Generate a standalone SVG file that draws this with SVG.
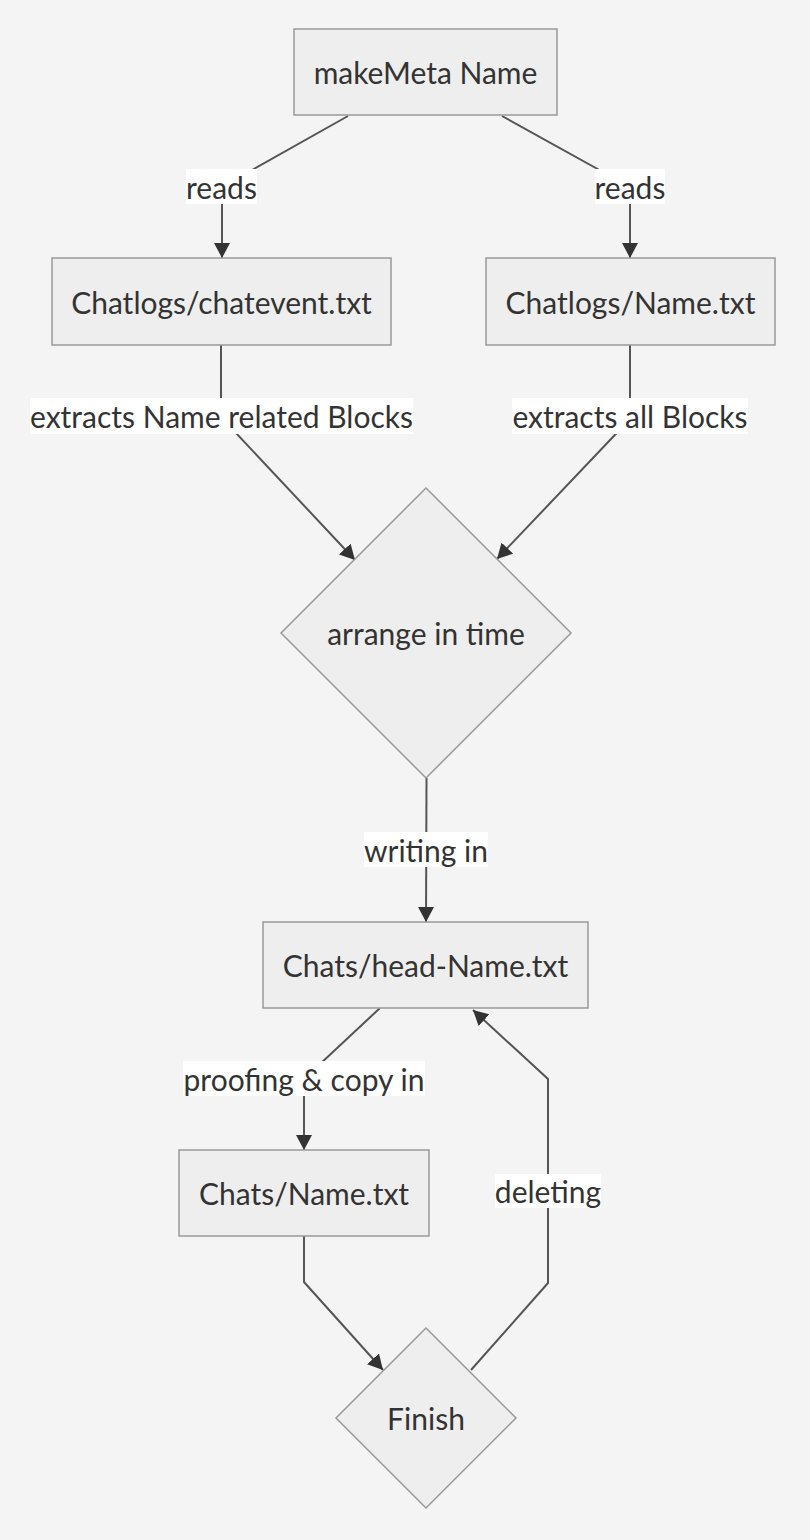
<svg xmlns="http://www.w3.org/2000/svg" width="810" height="1540" viewBox="0 0 810 1540">
<style>
.node rect,.node polygon{fill:#eeeeee;stroke:#999999;stroke-width:1.5}
.t{font-family:Lato,"Noto Sans","Liberation Sans",sans-serif;font-size:30px;fill:#333333;text-anchor:middle;dominant-baseline:central}
.edge{fill:none;stroke:#555555;stroke-width:2}
.lbg{fill:#ffffff}
</style>
<defs>
<marker id="arr" markerUnits="userSpaceOnUse" markerWidth="16" markerHeight="16" refX="15" refY="8" orient="auto">
<path d="M0,0 L15,8 L0,16 z" fill="#333333"/>
</marker>
</defs>
<rect x="0" y="0" width="810" height="1540" fill="#f4f4f4"/>
<g id="connectors">
<path class="edge" d="M348,116 L222,187 L222,258" marker-end="url(#arr)"/>
<path class="edge" d="M502,116 L630,187 L630,258" marker-end="url(#arr)"/>
<path class="edge" d="M221,345 L221,417 L355,560" marker-end="url(#arr)"/>
<path class="edge" d="M630,345 L630,419 L497,559" marker-end="url(#arr)"/>
<path class="edge" d="M426.5,778 L426,922" marker-end="url(#arr)"/>
<path class="edge" d="M380,1008 L304,1079 L304,1150" marker-end="url(#arr)"/>
<path class="edge" d="M304,1236 L304,1282 L383,1370" marker-end="url(#arr)"/>
<path class="edge" d="M471,1370 L548,1283 L548,1079 L473,1010" marker-end="url(#arr)"/>
<g id="edge-labels">
<rect class="lbg" x="186" y="169" width="71" height="35"/><text class="t" x="221.5" y="186.5">reads</text>
<rect class="lbg" x="595" y="169" width="70" height="35"/><text class="t" x="630" y="186.5">reads</text>
<rect class="lbg" x="30" y="398" width="383" height="36"/><text class="t" x="221.5" y="416">extracts Name related Blocks</text>
<rect class="lbg" x="512" y="398" width="236" height="36"/><text class="t" x="630" y="416">extracts all Blocks</text>
<rect class="lbg" x="364" y="832" width="124" height="35"/><text class="t" x="426" y="849.5">writing in</text>
<rect class="lbg" x="183" y="1061" width="242" height="35"/><text class="t" x="304" y="1078.5">proofing &amp; copy in</text>
<rect class="lbg" x="495" y="1174" width="106" height="34"/><text class="t" x="548" y="1191">deleting</text>
</g>
</g>
<g id="makeMeta" class="node"><rect x="294" y="29" width="263" height="86"/><text class="t" x="425.5" y="72">makeMeta Name</text></g>
<g id="chatevent" class="node"><rect x="52" y="258" width="339" height="87"/><text class="t" x="221.5" y="301.5">Chatlogs/chatevent.txt</text></g>
<g id="chatlogName" class="node"><rect x="486" y="258" width="289" height="87"/><text class="t" x="630.5" y="301.5">Chatlogs/Name.txt</text></g>
<g id="arrange" class="node"><polygon points="426,488 571,633 426,778 281,633"/><text class="t" x="426" y="633">arrange in time</text></g>
<g id="headName" class="node"><rect x="263" y="922" width="325" height="86"/><text class="t" x="425.5" y="965">Chats/head-Name.txt</text></g>
<g id="chatsName" class="node"><rect x="179" y="1150" width="250" height="86"/><text class="t" x="304" y="1193">Chats/Name.txt</text></g>
<g id="finish" class="node"><polygon points="426,1328 516,1418 426,1508 336,1418"/><text class="t" x="426" y="1418">Finish</text></g>
</svg>
